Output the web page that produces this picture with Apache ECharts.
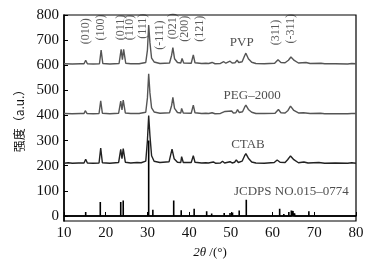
<!DOCTYPE html>
<html>
<head>
<meta charset="utf-8">
<script src="https://cdn.jsdelivr.net/npm/echarts@6/dist/echarts.min.js"></script>
<style>
  html, body { margin: 0; padding: 0; background: #fff; }
  #chart { width: 372px; height: 267px; }
</style>
</head>
<body>
<div id="chart"></div>
<script>
// XRD patterns: [2theta, intensity]
const pvp = [
  [10, 606], [12, 605], [14, 606], [14.8, 606], [15.2, 620], [15.6, 606], [17, 605], [18.5, 606],
  [18.9, 660], [19.3, 607], [21, 605], [23.2, 607], [23.7, 663], [24.0, 622], [24.3, 663], [24.8, 608],
  [26, 606], [28, 606], [29.6, 611], [30.0, 660], [30.3, 760], [30.6, 690], [31.0, 628], [31.6, 613],
  [33, 607], [35.3, 609], [35.8, 640], [36.1, 670], [36.5, 626], [37.2, 611], [38, 609], [38.3, 627],
  [38.7, 609], [40.5, 608], [41.0, 641], [41.4, 610], [43, 607], [44.0, 608], [44.3, 614], [44.7, 607],
  [45.5, 611], [46.2, 606], [47.5, 607], [48.3, 614], [48.8, 608], [49.8, 616], [50.3, 609], [51.0, 610],
  [51.5, 620], [51.9, 611], [52.7, 614], [53.3, 638], [53.6, 648], [54.2, 626], [55, 612], [56, 607],
  [58, 606], [60.5, 608], [61.3, 622], [62.0, 611], [63, 610], [63.8, 620], [64.4, 633], [65.2, 619],
  [66.2, 609], [68, 611], [69, 607], [71.6, 608], [72.5, 606], [75, 606], [78, 605], [79, 607], [80, 606]
];
const peg = [
  [10, 408], [12, 407], [14, 408], [14.8, 408], [15.1, 419], [15.5, 408], [17, 407], [18.4, 408],
  [18.8, 458], [19.2, 409], [21, 407], [23.1, 409], [23.6, 457], [23.9, 422], [24.2, 461], [24.7, 410],
  [26, 408], [28, 408], [29.6, 413], [30.0, 470], [30.3, 566], [30.6, 490], [31.0, 430], [31.6, 414],
  [33, 409], [35.3, 411], [35.8, 440], [36.1, 472], [36.5, 428], [37.2, 412], [38, 410], [38.2, 428],
  [38.6, 410], [40.5, 409], [41.0, 441], [41.4, 411], [43, 408], [44.0, 409], [44.3, 416], [44.7, 408],
  [45.5, 411], [46.2, 407], [47.5, 408], [48.6, 416], [49.0, 409], [50.2, 418], [50.6, 410], [51.2, 411],
  [51.6, 423], [52.0, 412], [52.8, 415], [53.3, 433], [53.6, 441], [54.2, 424], [55, 413], [56, 408],
  [58, 408], [60.6, 409], [61.4, 424], [62.0, 411], [63, 410], [63.7, 420], [64.3, 437], [65.1, 420],
  [66.2, 410], [67.4, 411], [69, 408], [71.5, 409], [72.5, 407], [75, 407], [78, 407], [79, 408], [80, 408]
];
const ctab = [
  [10, 210], [11, 212], [12, 210], [13.5, 211], [14.8, 211], [15.2, 226], [15.6, 211], [17, 210], [18.4, 211],
  [18.8, 270], [19.2, 212], [21, 210], [23.1, 213], [23.6, 265], [23.9, 228], [24.2, 268], [24.7, 214],
  [26, 211], [27.5, 213], [28.5, 212], [29.6, 218], [30.0, 300], [30.3, 400], [30.6, 320], [31.0, 240],
  [31.6, 218], [33, 213], [35.2, 216], [35.6, 245], [35.9, 266], [36.4, 228], [37.2, 214], [38, 213],
  [38.2, 236], [38.6, 213], [40.5, 213], [41.0, 240], [41.4, 214], [43, 211], [44.0, 212], [44.2, 218],
  [44.6, 211], [45.8, 215], [46.3, 210], [47.5, 211], [48.0, 218], [48.5, 211], [49.8, 216], [50.3, 211],
  [50.9, 214], [51.3, 223], [51.8, 213], [52.7, 218], [53.3, 240], [53.6, 248], [54.2, 230], [55, 215],
  [56, 211], [58, 210], [60.4, 213], [61.1, 223], [61.8, 214], [63, 213], [63.6, 224], [64.3, 239],
  [65.1, 224], [66.2, 212], [67.5, 215], [68.5, 211], [71.1, 213], [72.5, 210], [75, 211], [78, 210],
  [79, 212], [80, 210]
];
// JCPDS 015-0774 stick positions and heights
const jcpdsPos = [15.2, 18.7, 23.6, 24.2, 30.3, 31.3, 36.3, 38.1, 41.2, 44.2, 45.4, 48.4, 49.8, 50.4, 52.0,
  53.7, 55.2, 57.9, 61.7, 62.7, 63.9, 64.5, 64.9, 65.3, 68.7, 71.1, 72.3, 74.8, 78.0, 79.2];
const jcpdsInt = [16, 56, 56, 62, 300, 25, 62, 23, 29, 19, 10, 12, 12, 14, 22,
  65, 5, 4, 29, 8, 16, 22, 20, 10, 19, 5, 5, 3, 4, 5];

const planes = ['(010)', '(100)', '(011)', '(110)', '(111)', '(-111)', '(021)', '(200)', '(121)', '(311)', '(-311)'];
const planeX = [15.2, 18.9, 23.6, 25.9, 28.9, 33.0, 36.1, 39.0, 42.6, 60.7, 64.5];
const planeY = [735, 750, 750, 750, 755, 720, 755, 745, 745, 730, 745];

const sampleNames = ['PVP', 'PEG\u20132000', 'CTAB', 'JCDPS NO.015\u20130774'];
const sampleX = [52.6, 55.1, 54.1, 64.5];
const sampleY = [690, 478, 283, 97];

const yTicks = [0, 100, 200, 300, 400, 500, 600, 700, 800];

const sticks = [[10, 0]];
jcpdsPos.forEach((p, i) => {
  sticks.push([p, 0], [p, jcpdsInt[i]], [p, 0]);
});
sticks.push([80, 0]);

const serif = '"Liberation Serif", "DejaVu Serif", serif';
const chart = echarts.init(document.getElementById('chart'));

const lineSeries = (data, color, width) => ({
  type: 'line',
  data: data,
  symbol: 'none',
  silent: true,
  lineStyle: { color: color, width: width }
});

chart.setOption({
  animation: false,
  grid: { left: 64, right: 16, top: 15, bottom: 46, show: true, borderColor: '#000', borderWidth: 1.2 },
  xAxis: {
    type: 'value', min: 10, max: 80, interval: 10,
    axisLine: { lineStyle: { color: '#000', width: 1.5 } },
    axisTick: { inside: true, length: 4, lineStyle: { color: '#000' } },
    axisLabel: { color: '#111', fontFamily: serif, fontSize: 15, margin: 5 },
    splitLine: { show: false },
    name: '{i|2\u03b8} /(\u00b0)',
    nameLocation: 'middle', nameGap: 24,
    nameTextStyle: {
      color: '#111', fontFamily: serif, fontSize: 13,
      rich: { i: { fontStyle: 'italic', fontFamily: serif, fontSize: 13, color: '#111' } }
    }
  },
  yAxis: {
    type: 'value', min: -20, max: 800,
    axisLine: { show: true, lineStyle: { color: '#000', width: 1.5 } },
    axisTick: { inside: true, length: 4, customValues: yTicks, lineStyle: { color: '#000' } },
    axisLabel: { color: '#111', fontFamily: serif, fontSize: 15, margin: 5, customValues: yTicks },
    splitLine: { show: false },
    name: '\u5f3a\u5ea6\uff08a.u.\uff09',
    nameLocation: 'middle', nameGap: 36, nameRotate: 90,
    nameTextStyle: { color: '#111', fontFamily: '"Noto Sans CJK SC", ' + serif, fontSize: 12 }
  },
  series: [
    lineSeries(pvp, '#555', 1.4),
    lineSeries(peg, '#555', 1.4),
    lineSeries(ctab, '#222', 1.4),
    lineSeries(sticks, '#000', 1.6),
    {
      type: 'scatter', symbolSize: 0, silent: true,
      data: planeX.map((x, i) => ({ value: [x, planeY[i]], name: planes[i] })),
      label: {
        show: true, position: 'inside', rotate: 90, formatter: p => p.name,
        color: '#333', fontFamily: serif, fontSize: 12, align: 'center', verticalAlign: 'middle'
      }
    },
    {
      type: 'scatter', symbolSize: 0, silent: true,
      data: sampleX.map((x, i) => ({ value: [x, sampleY[i]], name: sampleNames[i] })),
      label: {
        show: true, position: 'inside', formatter: p => p.name,
        color: '#222', fontFamily: serif, fontSize: 13, align: 'center', verticalAlign: 'middle'
      }
    }
  ]
});
</script>
</body>
</html>
